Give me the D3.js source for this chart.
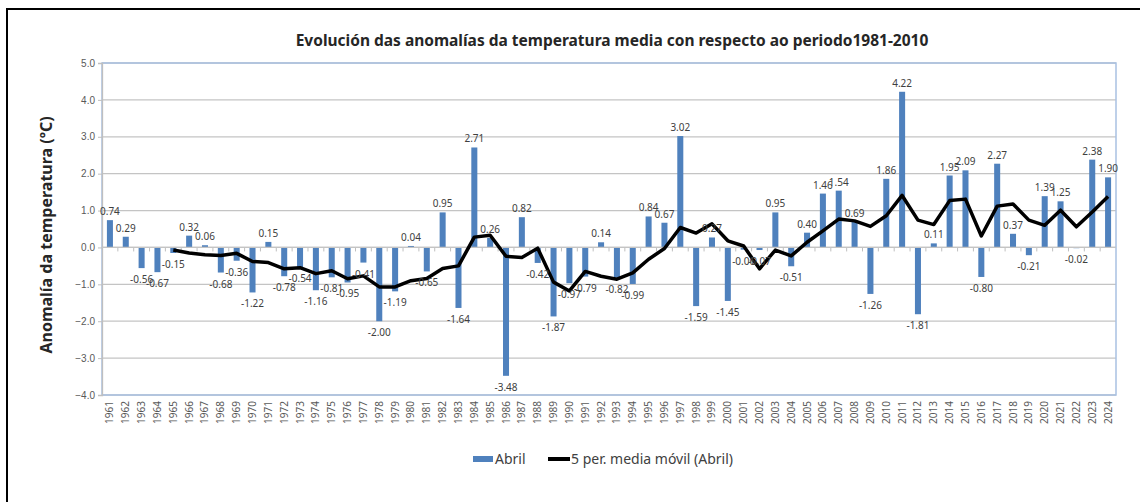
<!DOCTYPE html>
<html>
<head>
<meta charset="utf-8">
<script src="https://cdn.jsdelivr.net/npm/d3@7"></script>
<style>
  body { margin: 0; background: #fff; }
  svg { display: block; font-family: "Noto Sans", "Open Sans", sans-serif; }
</style>
</head>
<body>
<div id="chart"></div>
<script>
// Years on the category axis
const years = d3.range(1961, 2025)

// April temperature anomaly (ºC), one per year
const anomalies = [
  0.74, 0.29, -0.56, -0.67, -0.15, 0.32, 0.06, -0.68, -0.36, -1.22,
  0.15, -0.78, -0.54, -1.16, -0.81, -0.95, -0.41, -2.00, -1.19, 0.04,
  -0.65, 0.95, -1.64, 2.71, 0.26, -3.48, 0.82, -0.42, -1.87, -0.97,
  -0.79, 0.14, -0.82, -0.99, 0.84, 0.67, 3.02, -1.59, 0.27, -1.45,
  -0.06, -0.07, 0.95, -0.51, 0.40, 1.46, 1.54, 0.69, -1.26, 1.86,
  4.22, -1.81, 0.11, 1.95, 2.09, -0.80, 2.27, 0.37, -0.21, 1.39,
  1.25, -0.02, 2.38, 1.90
]

// 5 period moving average, from 1965 onward
const movingYears = d3.range(1965, 2025)
const movingAvg = [
  -0.07, -0.15, -0.20, -0.22, -0.16, -0.38, -0.41, -0.58, -0.55, -0.71,
  -0.63, -0.85, -0.77, -1.07, -1.07, -0.90, -0.84, -0.57, -0.50, 0.28,
  0.33, -0.24, -0.27, -0.02, -0.94, -1.18, -0.65, -0.78, -0.86, -0.69,
  -0.32, -0.03, 0.54, 0.39, 0.64, 0.18, 0.04, -0.58, -0.07, -0.23,
  0.14, 0.45, 0.77, 0.72, 0.57, 0.86, 1.41, 0.74, 0.62, 1.27,
  1.31, 0.31, 1.12, 1.18, 0.74, 0.60, 1.01, 0.56, 0.96, 1.38
]

const yTicks = d3.range(-4, 6, 1)

const title = "Evolución das anomalías da temperatura media con respecto ao periodo1981-2010"
const yTitle = "Anomalía da temperatura (ºC)"
const barName = "Abril"
const lineName = "5 per. media móvil (Abril)"

const W = 1140, H = 502
const plot = { left: 102, right: 1116, top: 63, bottom: 395 }

const svg = d3.select("#chart").append("svg")
  .attr("width", W)
  .attr("height", H)

// outer frame (only top and left show in the crop)
svg.append("line").attr("x1", 6).attr("x2", W).attr("y1", 9).attr("y2", 9)
  .attr("stroke", "#000").attr("stroke-width", 2)
svg.append("line").attr("x1", 7).attr("x2", 7).attr("y1", 8).attr("y2", H)
  .attr("stroke", "#000").attr("stroke-width", 2)

const x = d3.scaleBand()
  .domain(years)
  .range([plot.left, plot.right])
  .paddingInner(0.62)
  .paddingOuter(0.31)

const y = d3.scaleLinear()
  .domain([-4, 5])
  .range([plot.bottom, plot.top])

// gridlines
svg.append("g")
  .selectAll("line")
  .data(yTicks)
  .join("line")
  .attr("x1", plot.left)
  .attr("x2", plot.right)
  .attr("y1", d => y(d))
  .attr("y2", d => y(d))
  .attr("stroke", "#c4c4c4")
  .attr("stroke-width", 1.3)

// plot area border
svg.append("rect")
  .attr("x", plot.left)
  .attr("y", plot.top)
  .attr("width", plot.right - plot.left)
  .attr("height", plot.bottom - plot.top)
  .attr("fill", "none")
  .attr("stroke", "#a9c1e2")
  .attr("stroke-width", 1.5)

// y axis
const yAxis = svg.append("g")
  .attr("transform", `translate(${plot.left},0)`)
  .call(d3.axisLeft(y).tickValues(yTicks).tickFormat(d3.format(".1f")).tickSize(4).tickPadding(3))
yAxis.select(".domain").attr("stroke", "#bfbfbf").attr("stroke-width", 1.3)
yAxis.selectAll(".tick line").attr("stroke", "#bfbfbf")
yAxis.selectAll("text").attr("fill", "#595959").style("font-size", "10px")

// category tick marks on the zero line
const step = x.step()
svg.append("g")
  .selectAll("line")
  .data(years.slice(1))
  .join("line")
  .attr("x1", d => x(d) - x.paddingInner() * step / 2)
  .attr("x2", d => x(d) - x.paddingInner() * step / 2)
  .attr("y1", y(0))
  .attr("y2", y(0) + 4)
  .attr("stroke", "#bfbfbf")

// year labels
svg.append("g")
  .selectAll("text")
  .data(years)
  .join("text")
  .attr("transform", d => `translate(${x(d) + x.bandwidth() / 2 + 3.5},${plot.bottom + 6}) rotate(-90)`)
  .attr("text-anchor", "end")
  .attr("fill", "#595959")
  .style("font-size", "10px")
  .text(d => d)

// bars
const bars = years.map((yr, i) => ({ year: yr, value: anomalies[i] }))
svg.append("g")
  .selectAll("rect")
  .data(bars)
  .join("rect")
  .attr("x", d => x(d.year))
  .attr("width", x.bandwidth())
  .attr("y", d => y(Math.max(0, d.value)))
  .attr("height", d => Math.abs(y(d.value) - y(0)))
  .attr("fill", "#4f81bd")

// zero line
svg.append("line")
  .attr("x1", plot.left).attr("x2", plot.right)
  .attr("y1", y(0)).attr("y2", y(0))
  .attr("stroke", "#c4c4c4").attr("stroke-width", 1.3)

// moving average line
const line = d3.line()
  .x(d => x(d.year) + x.bandwidth() / 2)
  .y(d => y(d.value))
svg.append("path")
  .datum(movingYears.map((yr, i) => ({ year: yr, value: movingAvg[i] })))
  .attr("d", line)
  .attr("fill", "none")
  .attr("stroke", "#000")
  .attr("stroke-width", 3.5)
  .attr("stroke-linejoin", "round")

// data labels
svg.append("g")
  .selectAll("text")
  .data(bars)
  .join("text")
  .attr("x", d => x(d.year) + x.bandwidth() / 2)
  .attr("y", d => d.value >= 0 ? y(d.value) - 5 : y(d.value) + 15)
  .attr("text-anchor", "middle")
  .attr("fill", "#404040")
  .style("font-size", "10px")
  .text(d => d.value.toFixed(2))

// title
svg.append("text")
  .attr("x", 612)
  .attr("y", 46)
  .attr("text-anchor", "middle")
  .attr("fill", "#262626")
  .style("font-size", "15.5px")
  .style("font-weight", "bold")
  .text(title)

svg.append("text")
  .attr("transform", "translate(52,235) rotate(-90)")
  .attr("text-anchor", "middle")
  .attr("fill", "#262626")
  .style("font-size", "16px")
  .style("font-weight", "bold")
  .text(yTitle)

// legend
const legend = svg.append("g").style("font-size", "14px").attr("fill", "#404040")
legend.append("rect").attr("x", 473).attr("y", 456).attr("width", 20).attr("height", 6).attr("fill", "#4f81bd")
legend.append("text").attr("x", 495).attr("y", 464).text(barName)
legend.append("line").attr("x1", 548).attr("x2", 570).attr("y1", 459).attr("y2", 459)
  .attr("stroke", "#000").attr("stroke-width", 4)
legend.append("text").attr("x", 571).attr("y", 464).text(lineName)
</script>
</body>
</html>
